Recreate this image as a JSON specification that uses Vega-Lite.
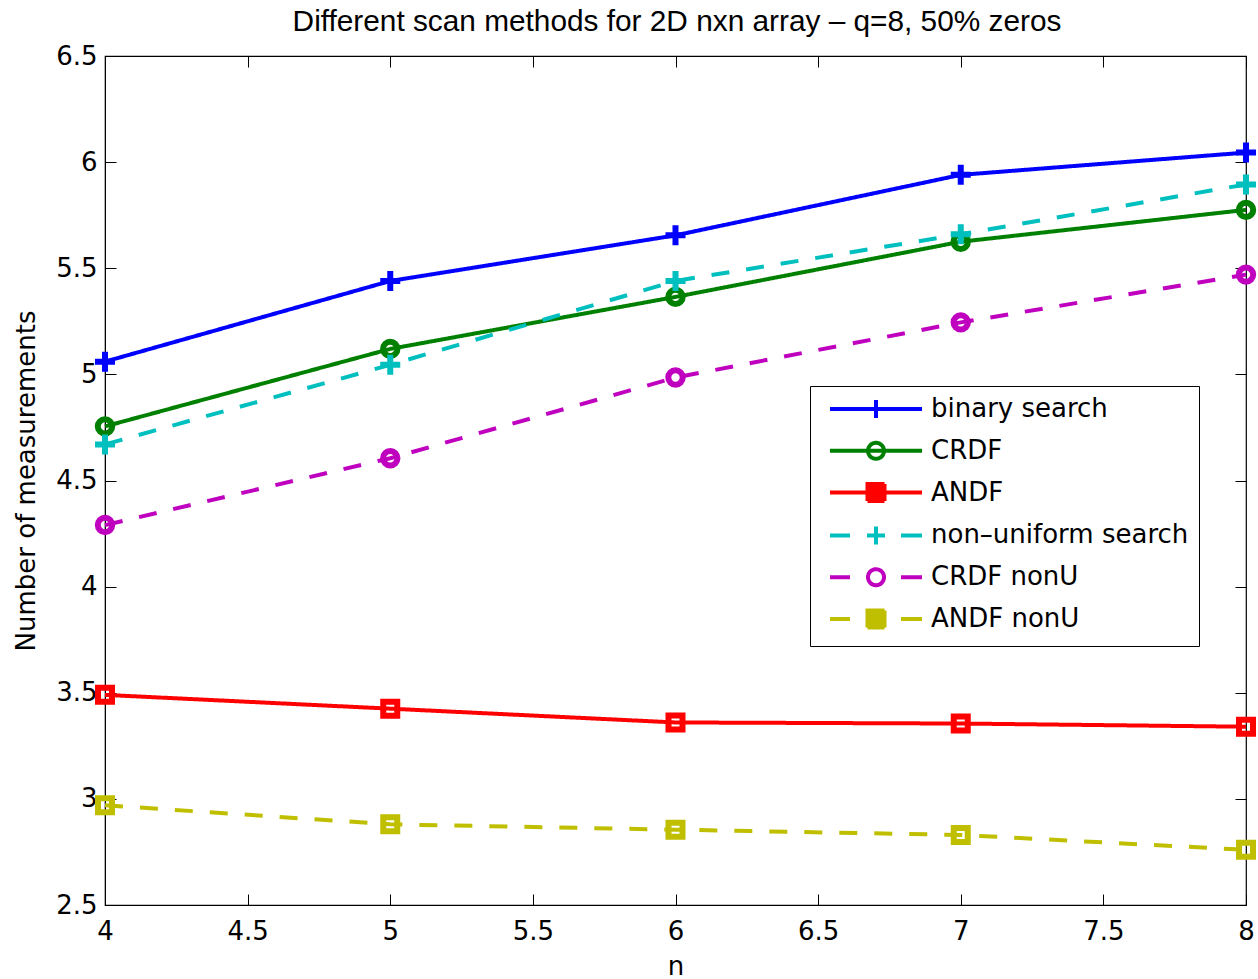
{
  "$schema": "https://vega.github.io/schema/vega-lite/v6.json",
  "width": 1141,
  "height": 849,
  "autosize": {"type": "none"},
  "padding": {"left": 105, "top": 56, "right": 12, "bottom": 74},
  "background": "white",
  "config": {
    "view": {"stroke": "black", "strokeWidth": 1.2},
    "axis": {
      "labelFont": "DejaVu Sans",
      "labelFontSize": 26,
      "labelColor": "black",
      "titleFont": "DejaVu Sans",
      "titleFontSize": 26,
      "titleFontWeight": "normal",
      "titleColor": "black",
      "domainColor": "black",
      "tickColor": "black",
      "grid": false,
      "labelFlush": false,
      "labelOverlap": false
    },
    "legend": {
      "labelFont": "DejaVu Sans",
      "labelFontSize": 26,
      "labelColor": "black"
    }
  },
  "data": {
    "values": [
      {"n": 4, "value": 5.06, "series": "binary search"},
      {"n": 5, "value": 5.44, "series": "binary search"},
      {"n": 6, "value": 5.655, "series": "binary search"},
      {"n": 7, "value": 5.94, "series": "binary search"},
      {"n": 8, "value": 6.045, "series": "binary search"},
      {"n": 4, "value": 4.755, "series": "CRDF"},
      {"n": 5, "value": 5.12, "series": "CRDF"},
      {"n": 6, "value": 5.365, "series": "CRDF"},
      {"n": 7, "value": 5.625, "series": "CRDF"},
      {"n": 8, "value": 5.775, "series": "CRDF"},
      {"n": 4, "value": 3.49, "series": "ANDF"},
      {"n": 5, "value": 3.425, "series": "ANDF"},
      {"n": 6, "value": 3.36, "series": "ANDF"},
      {"n": 7, "value": 3.355, "series": "ANDF"},
      {"n": 8, "value": 3.34, "series": "ANDF"},
      {"n": 4, "value": 4.67, "series": "non–uniform search"},
      {"n": 5, "value": 5.045, "series": "non–uniform search"},
      {"n": 6, "value": 5.44, "series": "non–uniform search"},
      {"n": 7, "value": 5.66, "series": "non–uniform search"},
      {"n": 8, "value": 5.895, "series": "non–uniform search"},
      {"n": 4, "value": 4.29, "series": "CRDF nonU"},
      {"n": 5, "value": 4.605, "series": "CRDF nonU"},
      {"n": 6, "value": 4.985, "series": "CRDF nonU"},
      {"n": 7, "value": 5.245, "series": "CRDF nonU"},
      {"n": 8, "value": 5.47, "series": "CRDF nonU"},
      {"n": 4, "value": 2.97, "series": "ANDF nonU"},
      {"n": 5, "value": 2.88, "series": "ANDF nonU"},
      {"n": 6, "value": 2.855, "series": "ANDF nonU"},
      {"n": 7, "value": 2.83, "series": "ANDF nonU"},
      {"n": 8, "value": 2.76, "series": "ANDF nonU"}
    ]
  },
  "transform": [{"calculate": "datum.series", "as": "style"}],
  "resolve": {"axis": {"x": "independent", "y": "independent"}},
  "layer": [
    {
      "mark": {"type": "line", "strokeWidth": 4},
      "encoding": {
        "x": {
          "field": "n", "type": "quantitative",
          "scale": {"domain": [4, 8], "nice": false, "zero": false},
          "axis": {
            "values": [4, 4.5, 5, 5.5, 6, 6.5, 7, 7.5, 8],
            "tickSize": -11, "labelPadding": 24, "format": "",
            "title": "n", "titleX": 570.5, "titleY": 69, "titleBaseline": "alphabetic", "titleAlign": "center"
          }
        },
        "y": {
          "field": "value", "type": "quantitative",
          "scale": {"domain": [2.5, 6.5], "nice": false, "zero": false},
          "axis": {
            "values": [2.5, 3, 3.5, 4, 4.5, 5, 5.5, 6, 6.5],
            "tickSize": -11, "labelPadding": 19, "format": "",
            "title": "Number of measurements", "titleX": -79, "titleY": 424.5, "titleAngle": -90,
            "titleBaseline": "middle", "titleAlign": "center"
          }
        },
        "color": {
          "field": "series", "type": "nominal",
          "scale": {
            "domain": ["binary search", "CRDF", "ANDF", "non–uniform search", "CRDF nonU", "ANDF nonU"],
            "range": ["#0000ff", "#008000", "#ff0000", "#00bfbf", "#bf00bf", "#bfbf00"]
          },
          "legend": {
            "title": null,
            "orient": "none",
            "legendX": 705,
            "legendY": 330,
            "padding": 10,
            "strokeColor": "black",
            "fillColor": "white",
            "symbolSize": 400,
            "symbolStrokeWidth": 4,
            "labelOffset": 85,
            "labelLimit": 400,
            "rowPadding": 8.8,
            "encode": {
              "symbols": {
                "update": {
                  "shape": {"signal": "datum.value === 'binary search' ? 'M-0.3,0H8.9M4.3,-0.9V0.9' : datum.value === 'CRDF' ? 'M-0.3,0H8.9M5.1,0A0.8,0.8 0 1,1 3.5,0A0.8,0.8 0 1,1 5.1,0' : datum.value === 'ANDF' ? 'M-0.3,0H8.9M3.45,-0.85H5.15V0.85H3.45Z' : datum.value === 'CRDF nonU' ? 'M-0.3,0H1.7M6.8,0H8.9M5.1,0A0.8,0.8 0 1,1 3.5,0A0.8,0.8 0 1,1 5.1,0' : datum.value === 'ANDF nonU' ? 'M-0.3,0H1.7M6.8,0H8.9M3.45,-0.85H5.15V0.85H3.45Z' : 'M-0.3,0H1.7M6.8,0H8.9M3.4,0H5.2M4.3,-0.9V0.9'"},
                  "fill": {"signal": "datum.value === 'ANDF' || datum.value === 'ANDF nonU' ? scale('color', datum.value) : 'transparent'"},
                  "stroke": {"signal": "scale('color', datum.value)"},
                  "strokeDash": {"value": [1, 0]},
                  "strokeWidth": {"value": 4},
                  "size": {"value": 400},
                  "opacity": {"value": 1}
                }
              }
            }
          }
        },
        "strokeDash": {
          "field": "style", "type": "nominal",
          "scale": {
            "range": [[1, 0], [18, 17], [1, 0], [18, 17], [1, 0], [18, 17]]
          },
          "legend": null
        }
      }
    },
    {
      "mark": {"type": "point", "filled": false, "strokeWidth": 6, "size": 400, "opacity": 1},
      "encoding": {
        "x": {
          "field": "n", "type": "quantitative",
          "axis": {
            "orient": "top", "values": [4, 4.5, 5, 5.5, 6, 6.5, 7, 7.5, 8], "tickSize": -11, "labels": false, "domain": false,
            "title": "Different scan methods for 2D nxn array – q=8, 50% zeros",
            "titleFont": "Liberation Sans", "titleFontSize": 29.8, "titleFontWeight": "normal",
            "titleX": 571.5, "titleY": -26, "titleBaseline": "alphabetic", "titleAlign": "center"
          }
        },
        "y": {
          "field": "value", "type": "quantitative",
          "axis": {"orient": "right", "values": [2.5, 3, 3.5, 4, 4.5, 5, 5.5, 6, 6.5], "tickSize": -11, "labels": false, "domain": false, "title": null}
        },
        "color": {"field": "series", "type": "nominal"},
        "shape": {
          "field": "style", "type": "nominal",
          "scale": {
            "range": [
              "M-0.7,-0.7H0.7V0.7H-0.7Z",
              "M-0.7,-0.7H0.7V0.7H-0.7Z",
              "M0.72,0A0.72,0.72 0 1,1 -0.72,0A0.72,0.72 0 1,1 0.72,0Z",
              "M0.72,0A0.72,0.72 0 1,1 -0.72,0A0.72,0.72 0 1,1 0.72,0Z",
              "M-1,0H1M0,-1V1",
              "M-1,0H1M0,-1V1"
            ]
          },
          "legend": null
        }
      }
    }
  ]
}
